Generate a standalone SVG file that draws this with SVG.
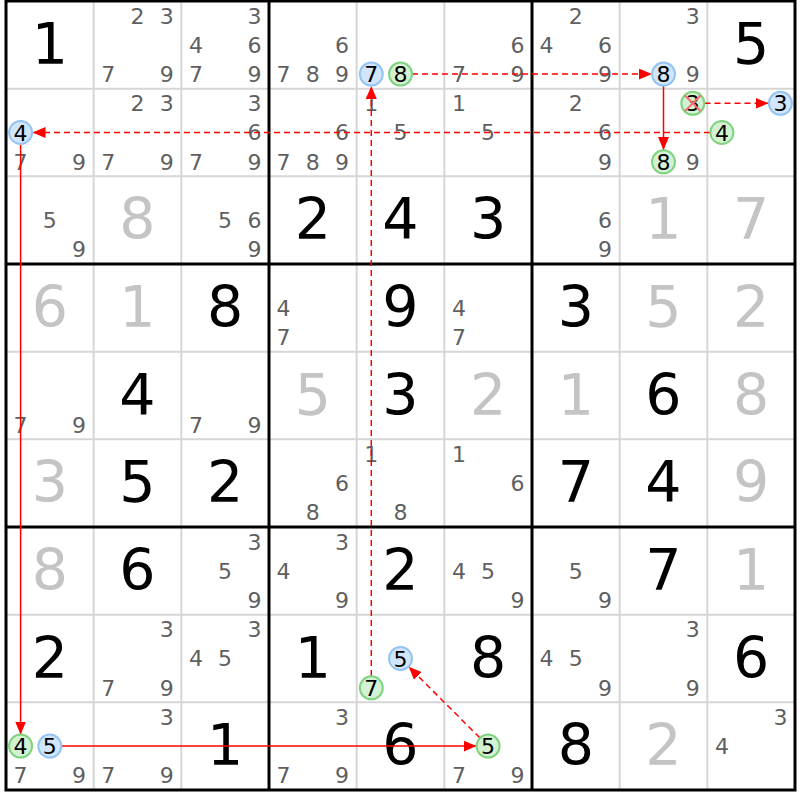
<svg xmlns="http://www.w3.org/2000/svg" width="800" height="800" viewBox="0 0 800 800">
<defs>
<style>
text{font-family:"DejaVu Sans",Verdana,sans-serif;text-anchor:middle}
.c{font-size:22px;fill:#5f5f5f}
.g{font-size:57px;fill:#000}
.s{font-size:57px;fill:#c4c4c4}
.nt{font-size:22px;fill:#000}
.thin{stroke:#d6d6d6;stroke-width:2}
.thick{stroke:#000;stroke-width:3}
.blue{fill:#d2e6fb;stroke:#94c4f2;stroke-width:2}
.green{fill:#d3f2d3;stroke:#7fd37f;stroke-width:2}
.link{stroke:#ff0000;stroke-width:1.5;fill:none;marker-end:url(#ah)}
.dash{stroke-dasharray:6 4}
.x{stroke:#ff6b6b;stroke-width:2}
</style>
<marker id="ah" markerUnits="userSpaceOnUse" markerWidth="13" markerHeight="11" refX="13" refY="5.5" orient="auto">
<path d="M0,0 L13,5.5 L0,11 z" fill="#ff0000"/>
</marker>
</defs>
<rect x="0" y="0" width="800" height="800" fill="#fff"/>
<g id="grid">
<line class="thin" x1="93.67" y1="1" x2="93.67" y2="790"/>
<line class="thin" x1="181.33" y1="1" x2="181.33" y2="790"/>
<line class="thin" x1="356.67" y1="1" x2="356.67" y2="790"/>
<line class="thin" x1="444.33" y1="1" x2="444.33" y2="790"/>
<line class="thin" x1="619.67" y1="1" x2="619.67" y2="790"/>
<line class="thin" x1="707.33" y1="1" x2="707.33" y2="790"/>
<line class="thin" x1="6" y1="88.67" x2="795" y2="88.67"/>
<line class="thin" x1="6" y1="176.33" x2="795" y2="176.33"/>
<line class="thin" x1="6" y1="351.67" x2="795" y2="351.67"/>
<line class="thin" x1="6" y1="439.33" x2="795" y2="439.33"/>
<line class="thin" x1="6" y1="614.67" x2="795" y2="614.67"/>
<line class="thin" x1="6" y1="702.33" x2="795" y2="702.33"/>
<line class="thick" x1="269" y1="1" x2="269" y2="790"/>
<line class="thick" x1="532" y1="1" x2="532" y2="790"/>
<line class="thick" x1="6" y1="264" x2="795" y2="264"/>
<line class="thick" x1="6" y1="527" x2="795" y2="527"/>
<rect x="6" y="1" width="789" height="789" fill="none" stroke="#000" stroke-width="3"/>
</g>
<g id="values" transform="translate(0,0.4)">
<text class="g" x="49.8" y="63.5">1</text>
<text class="g" x="751.1" y="63.5">5</text>
<text class="s" x="137.5" y="238.8">8</text>
<text class="g" x="312.8" y="238.8">2</text>
<text class="g" x="400.5" y="238.8">4</text>
<text class="g" x="488.1" y="238.8">3</text>
<text class="s" x="663.5" y="238.8">1</text>
<text class="s" x="751.1" y="238.8">7</text>
<text class="s" x="49.8" y="326.5">6</text>
<text class="s" x="137.5" y="326.5">1</text>
<text class="g" x="225.1" y="326.5">8</text>
<text class="g" x="400.5" y="326.5">9</text>
<text class="g" x="575.8" y="326.5">3</text>
<text class="s" x="663.5" y="326.5">5</text>
<text class="s" x="751.1" y="326.5">2</text>
<text class="g" x="137.5" y="414.2">4</text>
<text class="s" x="312.8" y="414.2">5</text>
<text class="g" x="400.5" y="414.2">3</text>
<text class="s" x="488.1" y="414.2">2</text>
<text class="s" x="575.8" y="414.2">1</text>
<text class="g" x="663.5" y="414.2">6</text>
<text class="s" x="751.1" y="414.2">8</text>
<text class="s" x="49.8" y="501.8">3</text>
<text class="g" x="137.5" y="501.8">5</text>
<text class="g" x="225.1" y="501.8">2</text>
<text class="g" x="575.8" y="501.8">7</text>
<text class="g" x="663.5" y="501.8">4</text>
<text class="s" x="751.1" y="501.8">9</text>
<text class="s" x="49.8" y="589.5">8</text>
<text class="g" x="137.5" y="589.5">6</text>
<text class="g" x="400.5" y="589.5">2</text>
<text class="g" x="663.5" y="589.5">7</text>
<text class="s" x="751.1" y="589.5">1</text>
<text class="g" x="49.8" y="677.2">2</text>
<text class="g" x="312.8" y="677.2">1</text>
<text class="g" x="488.1" y="677.2">8</text>
<text class="g" x="751.1" y="677.2">6</text>
<text class="g" x="225.1" y="764.8">1</text>
<text class="g" x="400.5" y="764.8">6</text>
<text class="g" x="575.8" y="764.8">8</text>
<text class="s" x="663.5" y="764.8">2</text>
</g>
<g id="candidates" transform="translate(0,0.4)">
<text class="c" x="137.5" y="23.2">2</text><text class="c" x="166.8" y="23.2">3</text><text class="c" x="108.3" y="81.7">7</text><text class="c" x="166.8" y="81.7">9</text>
<text class="c" x="254.4" y="23.2">3</text><text class="c" x="195.9" y="52.4">4</text><text class="c" x="254.4" y="52.4">6</text><text class="c" x="195.9" y="81.7">7</text><text class="c" x="254.4" y="81.7">9</text>
<text class="c" x="342.1" y="52.4">6</text><text class="c" x="283.6" y="81.7">7</text><text class="c" x="312.8" y="81.7">8</text><text class="c" x="342.1" y="81.7">9</text>
<text class="c" x="517.4" y="52.4">6</text><text class="c" x="458.9" y="81.7">7</text><text class="c" x="517.4" y="81.7">9</text>
<text class="c" x="575.8" y="23.2">2</text><text class="c" x="546.6" y="52.4">4</text><text class="c" x="605.1" y="52.4">6</text><text class="c" x="605.1" y="81.7">9</text>
<text class="c" x="692.8" y="23.2">3</text><text class="c" x="692.8" y="81.7">9</text>
<text class="c" x="20.6" y="169.4">7</text><text class="c" x="79.1" y="169.4">9</text>
<text class="c" x="137.5" y="110.9">2</text><text class="c" x="166.8" y="110.9">3</text><text class="c" x="108.3" y="169.4">7</text><text class="c" x="166.8" y="169.4">9</text>
<text class="c" x="254.4" y="110.9">3</text><text class="c" x="254.4" y="140.1">6</text><text class="c" x="195.9" y="169.4">7</text><text class="c" x="254.4" y="169.4">9</text>
<text class="c" x="342.1" y="140.1">6</text><text class="c" x="283.6" y="169.4">7</text><text class="c" x="312.8" y="169.4">8</text><text class="c" x="342.1" y="169.4">9</text>
<text class="c" x="371.3" y="110.9">1</text><text class="c" x="400.5" y="140.1">5</text>
<text class="c" x="458.9" y="110.9">1</text><text class="c" x="488.1" y="140.1">5</text>
<text class="c" x="575.8" y="110.9">2</text><text class="c" x="605.1" y="140.1">6</text><text class="c" x="605.1" y="169.4">9</text>
<text class="c" x="692.8" y="169.4">9</text>
<text class="c" x="49.8" y="227.7">5</text><text class="c" x="79.1" y="257.0">9</text>
<text class="c" x="225.1" y="227.7">5</text><text class="c" x="254.4" y="227.7">6</text><text class="c" x="254.4" y="257.0">9</text>
<text class="c" x="605.1" y="227.7">6</text><text class="c" x="605.1" y="257.0">9</text>
<text class="c" x="283.6" y="315.4">4</text><text class="c" x="283.6" y="344.7">7</text>
<text class="c" x="458.9" y="315.4">4</text><text class="c" x="458.9" y="344.7">7</text>
<text class="c" x="20.6" y="432.4">7</text><text class="c" x="79.1" y="432.4">9</text>
<text class="c" x="195.9" y="432.4">7</text><text class="c" x="254.4" y="432.4">9</text>
<text class="c" x="342.1" y="490.7">6</text><text class="c" x="312.8" y="520.0">8</text>
<text class="c" x="371.3" y="461.5">1</text><text class="c" x="400.5" y="520.0">8</text>
<text class="c" x="458.9" y="461.5">1</text><text class="c" x="517.4" y="490.7">6</text>
<text class="c" x="254.4" y="549.2">3</text><text class="c" x="225.1" y="578.4">5</text><text class="c" x="254.4" y="607.7">9</text>
<text class="c" x="342.1" y="549.2">3</text><text class="c" x="283.6" y="578.4">4</text><text class="c" x="342.1" y="607.7">9</text>
<text class="c" x="458.9" y="578.4">4</text><text class="c" x="488.1" y="578.4">5</text><text class="c" x="517.4" y="607.7">9</text>
<text class="c" x="575.8" y="578.4">5</text><text class="c" x="605.1" y="607.7">9</text>
<text class="c" x="166.8" y="636.9">3</text><text class="c" x="108.3" y="695.4">7</text><text class="c" x="166.8" y="695.4">9</text>
<text class="c" x="254.4" y="636.9">3</text><text class="c" x="195.9" y="666.1">4</text><text class="c" x="225.1" y="666.1">5</text>
<text class="c" x="546.6" y="666.1">4</text><text class="c" x="575.8" y="666.1">5</text><text class="c" x="605.1" y="695.4">9</text>
<text class="c" x="692.8" y="636.9">3</text><text class="c" x="692.8" y="695.4">9</text>
<text class="c" x="20.6" y="783.0">7</text><text class="c" x="79.1" y="783.0">9</text>
<text class="c" x="166.8" y="724.5">3</text><text class="c" x="108.3" y="783.0">7</text><text class="c" x="166.8" y="783.0">9</text>
<text class="c" x="342.1" y="724.5">3</text><text class="c" x="283.6" y="783.0">7</text><text class="c" x="342.1" y="783.0">9</text>
<text class="c" x="458.9" y="783.0">7</text><text class="c" x="517.4" y="783.0">9</text>
<text class="c" x="780.4" y="724.5">3</text><text class="c" x="721.9" y="753.7">4</text>
</g>
<g id="connectors">
<line class="link dash" x1="412" y1="74.1" x2="652" y2="74.1"/>
<line class="link" x1="663.5" y1="86" x2="663.5" y2="150"/>
<line class="link dash" x1="704.5" y1="103.3" x2="768.5" y2="103.3"/>
<line class="link dash" x1="710" y1="132.5" x2="32.5" y2="132.5"/>
<line class="link" x1="20.6" y1="144.5" x2="20.6" y2="734.5"/>
<line class="link" x1="61.5" y1="746.1" x2="476.5" y2="746.1"/>
<line class="link dash" x1="479.8" y1="737.8" x2="408.7" y2="666.7"/>
<line class="link dash" x1="371.3" y1="676" x2="371.3" y2="86"/>
</g>
<g id="n-r1c5-7"><circle class="blue" cx="371.3" cy="74.1" r="11.5"/><text class="nt" x="371.3" y="82.1">7</text></g>
<g id="n-r1c5-8"><circle class="green" cx="400.5" cy="74.1" r="11.5"/><text class="nt" x="400.5" y="82.1">8</text></g>
<g id="n-r1c8-8"><circle class="blue" cx="663.5" cy="74.1" r="11.5"/><text class="nt" x="663.5" y="82.1">8</text></g>
<g id="n-r2c8-3"><circle class="green" cx="692.8" cy="103.3" r="11.5"/><text class="nt" x="692.8" y="111.3">3</text><line class="x" x1="685" y1="95.5" x2="700.6" y2="111.1"/><line class="x" x1="700.6" y1="95.5" x2="685" y2="111.1"/></g>
<g id="n-r2c8-8"><circle class="green" cx="663.5" cy="161.8" r="11.5"/><text class="nt" x="663.5" y="169.8">8</text></g>
<g id="n-r2c9-3"><circle class="blue" cx="780.4" cy="103.3" r="11.5"/><text class="nt" x="780.4" y="111.3">3</text></g>
<g id="n-r2c9-4"><circle class="green" cx="721.9" cy="132.5" r="11.5"/><text class="nt" x="721.9" y="140.5">4</text></g>
<g id="n-r2c1-4"><circle class="blue" cx="20.6" cy="132.5" r="11.5"/><text class="nt" x="20.6" y="140.5">4</text></g>
<g id="n-r9c1-4"><circle class="green" cx="20.6" cy="746.1" r="11.5"/><text class="nt" x="20.6" y="754.1">4</text></g>
<g id="n-r9c1-5"><circle class="blue" cx="49.8" cy="746.1" r="11.5"/><text class="nt" x="49.8" y="754.1">5</text></g>
<g id="n-r9c6-5"><circle class="green" cx="488.1" cy="746.1" r="11.5"/><text class="nt" x="488.1" y="754.1">5</text></g>
<g id="n-r8c5-5"><circle class="blue" cx="400.5" cy="658.5" r="11.5"/><text class="nt" x="400.5" y="666.5">5</text></g>
<g id="n-r8c5-7"><circle class="green" cx="371.3" cy="687.8" r="11.5"/><text class="nt" x="371.3" y="695.8">7</text></g>
</svg>
